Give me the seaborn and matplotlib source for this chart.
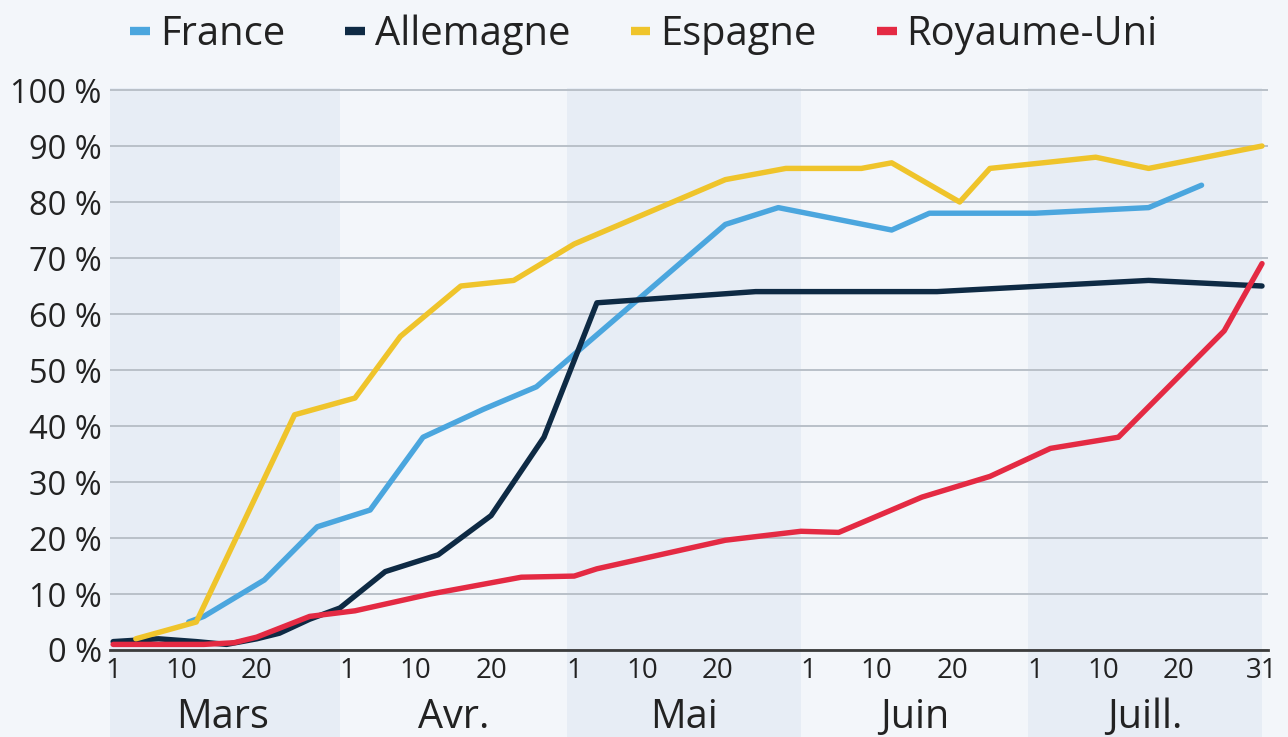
import pandas as pd
import numpy as np
import matplotlib
matplotlib.use('Agg')
import matplotlib.pyplot as plt
from matplotlib.lines import Line2D
import seaborn as sns

# share of people wearing a mask in public (%)
fr_dates = ['2020-03-11', '2020-03-13', '2020-03-21', '2020-03-28', '2020-04-04',
            '2020-04-11', '2020-04-19', '2020-04-26', '2020-05-21', '2020-05-28',
            '2020-06-12', '2020-06-17', '2020-07-01', '2020-07-16', '2020-07-23']
fr_values = [5, 6, 12.5, 22, 25, 38, 43, 47, 76, 79, 75, 78, 78, 79, 83]

de_dates = ['2020-03-01', '2020-03-07', '2020-03-12', '2020-03-16', '2020-03-20',
            '2020-03-23', '2020-03-27', '2020-03-31', '2020-04-06', '2020-04-13',
            '2020-04-20', '2020-04-27', '2020-05-04', '2020-05-25', '2020-06-18',
            '2020-07-02', '2020-07-16', '2020-07-31']
de_values = [1.5, 2, 1.5, 1, 2, 3, 5.5, 7.5, 14, 17, 24, 38, 62, 64, 64, 65, 66, 65]

es_dates = ['2020-03-04', '2020-03-12', '2020-03-25', '2020-04-02', '2020-04-08',
            '2020-04-16', '2020-04-23', '2020-05-01', '2020-05-21', '2020-05-29',
            '2020-06-08', '2020-06-12', '2020-06-21', '2020-06-25', '2020-07-09',
            '2020-07-16', '2020-07-31']
es_values = [2, 5, 42, 45, 56, 65, 66, 72.5, 84, 86, 86, 87, 80, 86, 88, 86, 90]

uk_dates = ['2020-03-01', '2020-03-13', '2020-03-17', '2020-03-20', '2020-03-27',
            '2020-04-02', '2020-04-12', '2020-04-24', '2020-05-01', '2020-05-04',
            '2020-05-21', '2020-05-31', '2020-06-05', '2020-06-16', '2020-06-25',
            '2020-07-03', '2020-07-12', '2020-07-26', '2020-07-31']
uk_values = [1, 1, 1.3, 2.3, 6, 7, 10, 13, 13.2, 14.5, 19.6, 21.2, 21, 27.3, 31,
             36, 38, 57, 69]

countries = ['France', 'Allemagne', 'Espagne', 'Royaume-Uni']
colors = ['#4ba6de', '#0e2a44', '#efc42b', '#e42a43']
months = ['Mars', 'Avr.', 'Mai', 'Juin', 'Juill.']
month_starts = ['2020-03-01', '2020-04-01', '2020-05-01', '2020-06-01', '2020-07-01', '2020-08-01']
day_ticks = [1, 10, 20]

frames = []
for name, d, v in zip(countries,
                      [fr_dates, de_dates, es_dates, uk_dates],
                      [fr_values, de_values, es_values, uk_values]):
    frames.append(pd.DataFrame({'date': pd.to_datetime(d), 'valeur': v, 'pays': name}))
df = pd.concat(frames, ignore_index=True)

sns.set_style('white')
plt.rcParams['font.family'] = ['Open Sans', 'DejaVu Sans']

bg = '#f3f6fa'
band = '#e7edf5'

fig = plt.figure(figsize=(12.88, 7.37), dpi=100, facecolor=bg)
ax = fig.add_axes([110 / 1288, (737 - 650) / 737, 1158 / 1288, 562 / 737])
ax.set_facecolor(bg)

x0 = pd.Timestamp('2020-03-01') - pd.Timedelta(hours=10)
x1 = pd.Timestamp('2020-07-31') + pd.Timedelta(hours=19)

# shaded bands for every other month, running down behind the labels
starts = pd.to_datetime(month_starts)
for i in range(0, 5, 2):
    a = max(starts[i] - pd.Timedelta(days=1), x0)
    b = min(starts[i + 1] - pd.Timedelta(days=1), x1)
    ax.axvspan(a, b, ymin=-0.2, ymax=1, color=band, lw=0, clip_on=False, zorder=0)

sns.lineplot(data=df, x='date', y='valeur', hue='pays', hue_order=countries,
             palette=colors, linewidth=3.9, legend=False, ax=ax,
             solid_capstyle='round', zorder=3)

ax.set_xlim(x0, x1)
ax.set_ylim(0, 100.36)

yt = np.arange(0, 101, 10)
ax.set_yticks(yt)
ax.set_yticklabels([f'{v} %' for v in yt])
ax.yaxis.grid(True, color='#b9c0c8', lw=1.4, zorder=1)
ax.xaxis.grid(False)

# day ticks and month names
tick_dates = []
tick_labels = []
for s in starts[:-1]:
    for d in day_ticks:
        tick_dates.append(s + pd.Timedelta(days=d - 1))
        tick_labels.append(str(d))
tick_dates.append(pd.Timestamp('2020-07-31'))
tick_labels.append('31')
ax.set_xticks(tick_dates)
ax.set_xticklabels(tick_labels)

mids = [starts[i] - pd.Timedelta(days=1) + (starts[i + 1] - starts[i]) / 2 for i in range(5)]
ax.set_xticks(mids, minor=True)
ax.set_xticklabels(months, minor=True)

ax.tick_params(axis='x', which='major', length=0, pad=5, labelsize=20, labelcolor='#222222')
ax.tick_params(axis='x', which='minor', length=0, pad=34, labelsize=28.5, labelcolor='#222222')
ax.tick_params(axis='y', length=0, pad=6, labelsize=23.5, labelcolor='#222222')

for s in ['top', 'right', 'left']:
    ax.spines[s].set_visible(False)
ax.spines['bottom'].set_color('#3c3c3c')
ax.spines['bottom'].set_linewidth(2)
ax.spines['bottom'].set_zorder(2)
ax.set_xlabel('')
ax.set_ylabel('')

handles = [Line2D([0], [0], color=c, lw=6, solid_capstyle='butt') for c in colors]
fig.legend(handles, countries, loc='center', bbox_to_anchor=(0.5, 1 - 35 / 737),
           ncol=4, frameon=False, fontsize=28.7, handlelength=0.5, handletextpad=0.25,
           columnspacing=1.5, labelcolor='#222222')

fig.savefig('out.png', dpi=100, facecolor=bg)
